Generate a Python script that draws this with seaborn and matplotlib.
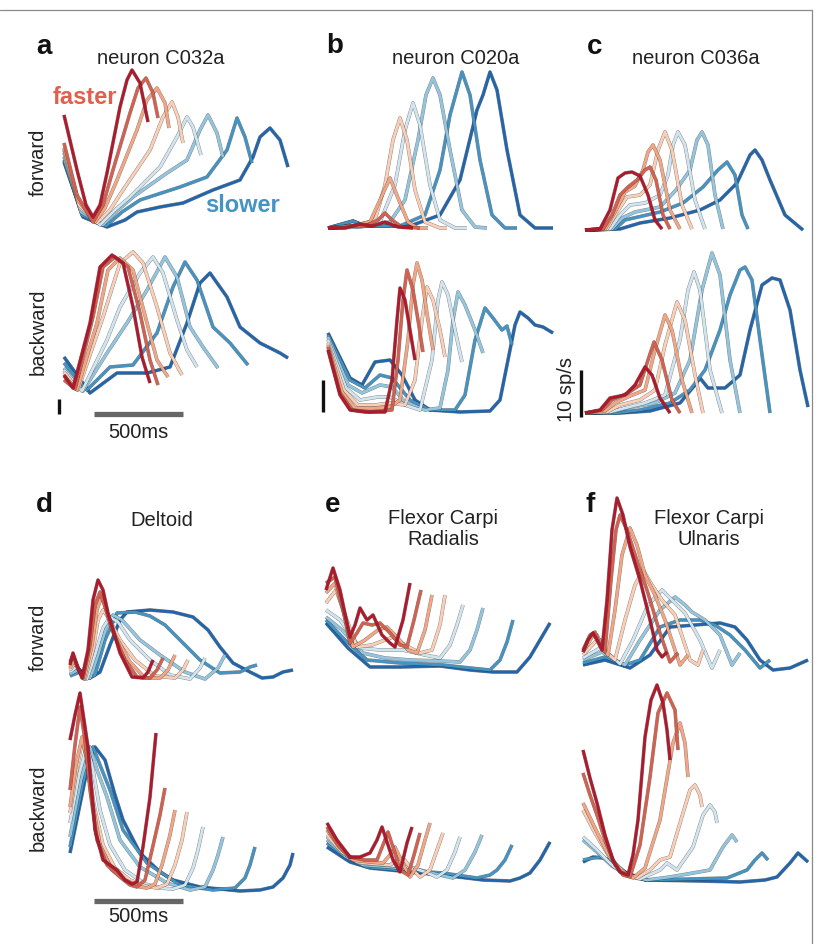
import matplotlib
matplotlib.use("Agg")
import matplotlib.pyplot as plt
from matplotlib.lines import Line2D
import seaborn as sns

sns.set_theme(style="white")
plt.rcParams['font.family'] = ['Liberation Sans', 'DejaVu Sans']

# speed conditions, fastest -> slowest
speeds = ["s1", "s2", "s3", "s4", "s5", "s6", "s7", "s8"]
colors = ['#b2182b', '#d6604d', '#f4a582', '#fbcfb6', '#d1e5f0', '#92c5de', '#4393c3', '#2166ac']

# time in bins (~5.75 ms), rate in arbitrary units (per-panel scale bar)
a_fwd_t = [[0,13,22,29,36,43,56,63,68,76,84],
           [0,13,29,39,49,66,74,82,89,94],
           [0,14,31,41,53,73,83,93,101,105],
           [0,15,33,46,59,86,99,108,114,119],
           [0,16,36,51,66,96,113,123,129,137],
           [0,17,39,54,69,103,123,136,144,153,159],
           [0,18,42,58,76,116,143,163,173,181,188],
           [0,19,43,61,73,96,119,149,176,189,196,206,216,224]]
a_fwd_r = [[113,58,23,11,23,55,121,148,158,145,106],
           [85,33,6,23,58,115,140,150,135,110],
           [80,28,6,20,48,98,128,140,125,100],
           [78,23,5,18,38,78,111,126,111,85],
           [75,20,3,18,31,61,91,111,101,73],
           [71,16,3,18,31,55,68,98,113,95,71],
           [68,13,2,16,28,41,51,78,110,91,65],
           [66,11,1,8,16,21,25,38,48,71,91,100,88,61]]

a_bwd_t = [[0,9,26,36,48,59,69,78,86],
           [0,11,29,39,51,64,76,86,94],
           [0,13,33,44,56,69,83,93,104],
           [0,14,39,56,69,79,93,106,118],
           [0,18,43,56,76,89,99,113,123,133],
           [0,19,43,63,83,101,113,126,139,154],
           [0,23,46,69,93,109,121,133,149,166,184],
           [0,26,53,83,106,123,136,146,163,176,196,216,224]]
a_bwd_r = [[18,5,70,126,138,130,86,36,10],
           [13,4,76,126,136,126,80,33,8],
           [17,3,70,123,135,123,70,33,16],
           [21,3,76,130,141,130,86,40,18],
           [23,2,53,86,120,136,120,73,43,26],
           [25,2,40,70,103,136,116,66,46,25],
           [30,3,26,28,60,106,131,113,66,50,28],
           [36,0,20,20,26,70,110,120,96,66,50,40,35]]

b_fwd_t = [[0,17,32,44,57,70,85],
           [0,22,37,50,57,64,74,92],
           [0,22,42,52,62,70,80,90,100],
           [0,27,47,57,65,72,79,87,97,112,119],
           [0,27,52,67,77,85,92,102,112,127,139],
           [0,32,62,77,90,98,105,112,122,134,147,159],
           [0,25,37,72,97,112,122,134,142,152,164,177,189],
           [0,25,37,82,112,132,149,155,162,169,179,192,207,225]]
b_fwd_r = [[0,0,4,2,6,1,0],
           [0,2,2,8,15,8,1,0],
           [0,2,6,28,50,30,6,0,0],
           [0,2,8,43,88,110,88,38,6,0,0],
           [0,1,6,43,98,125,103,43,8,0,0],
           [0,1,6,28,88,133,150,133,78,18,1,0],
           [0,7,2,2,13,58,113,156,133,68,13,0,0],
           [0,7,2,2,13,48,118,133,156,138,78,13,0,0]]

b_bwd_t = [[0,12,22,37,57,64,69,72,77,82,87],
           [0,12,24,42,64,70,75,79,85,90,95],
           [0,14,27,47,62,72,80,85,89,94,100,105],
           [0,16,30,47,62,77,87,94,99,105,112,117],
           [0,18,32,50,62,77,92,104,110,114,120,127,134],
           [0,20,34,52,64,77,97,112,120,125,130,137,147,155],
           [0,22,37,52,64,82,102,127,137,147,157,165,174,179,184],
           [0,22,34,47,62,74,87,102,132,162,172,180,187,192,200,207,215,225]]
b_bwd_r = [[62,17,2,0,0,32,92,124,112,82,52],
           [65,19,2,0,2,52,112,142,122,92,60],
           [67,20,4,4,5,12,72,127,149,132,92,62],
           [69,22,7,7,9,7,32,92,125,112,82,55],
           [72,24,12,15,15,7,2,52,112,130,117,82,50],
           [75,27,19,27,25,10,2,4,42,92,120,107,82,59],
           [77,32,24,37,34,12,2,2,17,72,104,94,82,86,67],
           [79,34,27,50,52,37,12,2,0,1,12,52,87,100,94,87,85,79]]

c_fwd_t = [[0,15,25,33,40,47,55,63,70,77],
           [0,18,27,35,43,52,60,65,71,78,85],
           [0,20,30,40,50,58,63,68,75,85,95],
           [0,22,32,42,55,65,73,80,87,97,107],
           [0,25,35,45,60,75,83,88,93,100,110,120],
           [0,27,37,50,75,91,105,112,117,123,130,138],
           [0,30,40,53,75,98,118,133,142,150,157,163],
           [0,35,55,85,115,135,152,165,170,177,185,200,218]]
c_fwd_r = [[0,1,20,52,57,58,54,35,10,1],
           [0,1,15,35,43,50,60,63,50,15,1],
           [0,1,18,38,44,60,78,85,70,20,1],
           [0,1,18,33,35,45,80,98,80,25,1],
           [0,1,15,25,27,35,55,85,98,85,30,1],
           [0,1,12,18,23,40,60,90,98,85,35,1],
           [0,1,10,13,18,27,43,60,68,55,15,1],
           [0,1,7,12,20,30,47,75,80,70,50,15,0]]

c_bwd_t = [[0,15,25,40,50,60,67,75,85],
           [0,17,27,43,55,63,69,77,87,95],
           [0,20,30,45,60,70,80,87,97,107],
           [0,22,35,55,70,80,92,100,110,118],
           [0,25,40,60,80,95,103,109,115,125,137],
           [0,27,42,70,90,105,117,127,135,145,155],
           [0,30,55,85,105,120,135,145,155,160,167,175,185],
           [0,35,65,95,110,115,123,140,155,165,177,187,195,205,215,223]]
c_bwd_r = [[0,3,15,18,28,46,38,15,0],
           [0,3,13,20,28,53,71,53,13,0],
           [0,2,10,17,23,63,98,83,33,0],
           [0,1,8,13,23,68,111,93,38,0],
           [0,1,5,10,18,73,123,141,123,43,0],
           [0,1,5,10,20,53,123,160,138,53,0],
           [0,0,3,10,23,43,83,118,143,146,133,73,0],
           [0,0,2,10,28,35,25,25,38,83,128,135,133,103,43,6]]

d_fwd_t = [[0,3,7,12,18,23,28,33,38,50,62,73,78,83],
           [0,3,8,13,20,25,30,36,42,55,67,80,87,93],
           [0,4,9,14,22,27,32,38,45,60,75,90,98,105],
           [0,5,10,15,23,28,33,40,50,65,85,105,113,118],
           [0,6,12,17,25,33,40,48,60,80,100,120,130,135],
           [0,8,14,20,28,36,43,52,70,90,115,135,148,155],
           [0,10,18,25,35,47,65,80,95,110,130,150,170,180,187],
           [0,10,20,30,40,50,57,80,103,123,138,150,163,180,192,203,213,223]]
d_fwd_r = [[15,27,15,2,30,80,100,90,67,27,3,2,8,20],
           [18,25,12,2,35,75,88,70,50,20,3,2,10,22],
           [12,20,10,1,35,70,85,65,45,18,2,2,10,25],
           [10,17,8,1,30,60,70,60,40,20,4,2,10,20],
           [8,13,6,1,25,52,63,58,40,20,5,1,12,22],
           [6,10,4,2,25,52,65,60,40,25,8,1,12,25],
           [4,8,2,5,40,67,68,64,55,40,20,7,8,13,15],
           [5,10,2,8,35,60,68,70,68,63,50,33,17,8,2,3,8,10]]

d_bwd_t = [[0,5,10,14,18,25,33,47,55,62,67,73,80,86],
           [0,5,10,15,20,27,37,50,60,67,75,82,90,95],
           [0,6,12,17,22,30,42,55,70,77,85,92,100,105],
           [0,7,13,18,24,33,45,60,75,87,97,105,112,117],
           [0,9,17,23,30,40,55,75,90,103,115,123,128,133],
           [0,11,20,27,37,50,70,97,120,135,143,148,153],
           [0,13,23,30,40,53,77,110,143,165,175,180,185],
           [0,15,25,35,45,53,70,90,103,130,170,190,203,213,220,223]]
d_bwd_r = [[151,176,198,171,144,61,31,21,11,7,9,44,94,158],
           [101,146,184,151,101,51,26,14,6,4,11,41,76,103],
           [84,126,154,131,91,46,21,11,4,3,7,26,56,81],
           [78,123,153,126,86,46,23,11,5,3,7,26,51,79],
           [68,116,146,121,81,46,21,7,3,2,6,23,41,64],
           [54,111,144,121,94,51,24,8,1,4,21,36,54],
           [44,109,144,126,101,61,28,6,1,3,13,26,44],
           [38,111,144,131,96,71,38,19,11,4,0,1,4,13,26,38]]

e_fwd_t = [[0,7,14,24,29,34,41,47,56,64,69,77,84],
           [0,9,16,24,31,37,46,54,64,74,81,88,95],
           [0,9,17,27,39,52,61,71,82,91,99,106],
           [0,10,19,31,46,59,67,79,94,106,114,119],
           [0,14,34,54,77,99,114,124,131,137],
           [0,16,37,59,84,114,134,144,151,157],
           [0,19,41,74,117,144,164,174,181,187],
           [0,22,44,74,114,144,167,191,204,214,224]]
e_fwd_r = [[83,105,83,36,48,65,53,58,38,30,26,53,90],
           [90,96,68,30,40,50,48,50,40,28,26,53,83],
           [80,90,63,26,33,43,46,36,23,20,43,78],
           [70,83,58,26,28,33,36,28,20,23,48,78],
           [63,53,25,23,23,18,15,28,48,68],
           [56,43,20,15,13,12,11,23,43,65],
           [53,33,13,10,8,5,3,13,31,53],
           [50,25,6,6,7,3,1,1,16,33,50]]

e_bwd_t = [[0,10,23,33,43,50,55,61,66,73,80,85],
           [0,11,23,38,50,56,61,67,73,81,87,93],
           [0,13,26,43,56,63,68,75,83,91,98,103],
           [0,15,30,48,63,70,76,83,93,103,110,116],
           [0,16,33,58,83,98,110,120,128,133],
           [0,18,36,63,93,113,126,138,148,155],
           [0,20,40,73,116,150,163,170,178,185],
           [0,23,43,83,123,156,183,193,203,213,223]]
e_bwd_r = [[59,42,25,25,29,42,55,37,22,10,39,55],
           [55,37,25,22,22,37,50,32,12,7,27,49],
           [52,34,22,20,19,27,35,20,5,17,42,59],
           [47,30,20,18,17,22,24,15,5,12,32,49],
           [45,29,19,17,15,10,5,12,30,45],
           [42,26,17,15,12,7,4,12,30,47],
           [39,24,15,12,9,4,7,12,22,37],
           [35,20,14,10,6,2,1,4,9,22,40]]

f_fwd_t = [[0,5,10,15,19,24,29,34,40,47,57,67,74,79,84],
           [0,7,12,17,22,28,33,37,44,49,57,64,77,87,95],
           [0,9,14,20,25,32,39,47,54,62,72,82,97,105],
           [0,12,17,23,32,42,52,60,69,79,92,107,115,120],
           [0,17,27,37,50,65,79,89,102,117,129,137],
           [0,19,32,42,57,77,92,102,109,122,137,149,157],
           [0,22,42,57,77,97,117,132,147,162,177,187],
           [0,22,47,67,87,112,137,152,164,177,190,207,225]]
f_fwd_r = [[18,30,37,28,20,70,140,172,155,123,90,50,20,13,18],
           [20,35,38,25,18,90,140,155,140,125,100,80,37,8,17],
           [18,33,35,22,15,60,115,142,125,95,75,50,5,15],
           [15,28,30,18,10,50,85,100,85,70,55,10,5,20],
           [12,22,15,6,30,65,80,70,57,30,2,20],
           [10,18,10,5,30,60,73,65,58,50,35,5,17],
           [7,13,5,10,43,50,50,45,35,20,2,10],
           [5,10,2,15,43,45,47,43,30,10,0,2,10]]

f_bwd_t = [[0,7,14,22,30,37,45,50,55,62,68,74,80,84,87],
           [0,7,14,22,32,40,47,57,67,75,84,92,95],
           [0,12,24,37,50,62,77,90,97,102,105],
           [0,12,27,42,54,67,77,87,100,107,112,117,119],
           [0,14,29,42,57,77,84,94,110,120,127,132,134],
           [0,14,29,47,64,87,110,127,140,149,154],
           [0,10,20,32,47,64,107,144,164,172,179,185],
           [0,10,20,27,42,62,117,157,182,194,207,215,225]]
f_bwd_r = [[132,104,79,47,22,10,7,27,62,145,182,197,179,152,122],
           [109,87,67,42,17,7,5,37,105,169,189,172,132],
           [79,54,30,12,4,14,62,139,159,139,105],
           [72,49,24,9,4,12,22,25,69,92,97,87,75],
           [45,32,17,7,3,12,19,12,35,67,77,70,59],
           [42,30,16,6,2,5,9,12,35,47,40],
           [22,24,25,16,6,2,3,4,12,22,29,22],
           [20,25,24,22,10,2,1,0,2,5,19,29,20]]

titles = ["neuron C032a", "neuron C020a", "neuron C036a",
          "Deltoid", "Flexor Carpi\nRadialis", "Flexor Carpi\nUlnaris"]
letters = ["a", "b", "c", "d", "e", "f"]

# ---------------- layout (pixels) ----------------
W, H = 814, 944
fig = plt.figure(figsize=(W / 100, H / 100), dpi=100)
fig.patch.set_facecolor("white")

def fx(x):
    return x / W

def fy(y):
    return 1 - y / H

AXW, AXH = 240, 215
panels = [
    (a_fwd_t, a_fwd_r, 64, 228), (a_bwd_t, a_bwd_r, 64, 393),
    (b_fwd_t, b_fwd_r, 328, 228), (b_bwd_t, b_bwd_r, 328, 412),
    (c_fwd_t, c_fwd_r, 585, 230), (c_bwd_t, c_bwd_r, 585, 413),
    (d_fwd_t, d_fwd_r, 70, 680), (d_bwd_t, d_bwd_r, 70, 891),
    (e_fwd_t, e_fwd_r, 326, 673), (e_bwd_t, e_bwd_r, 327, 882),
    (f_fwd_t, f_fwd_r, 583, 670), (f_bwd_t, f_bwd_r, 583, 882),
]

for T, R, x0, base in panels:
    ax = fig.add_axes([fx(x0), fy(base), AXW / W, AXH / H])
    ax.set_xlim(0, AXW)
    ax.set_ylim(0, AXH)
    ax.set_axis_off()
    ax.patch.set_alpha(0)
    for i in reversed(range(len(speeds))):
        t, r = T[i], R[i]
        ax.plot(t, r, color="#222222", lw=2.6, alpha=0.55, clip_on=False,
                solid_joinstyle="round", solid_capstyle="butt")
        sns.lineplot(x=t, y=r, color=colors[i], lw=2.0, ax=ax, estimator=None,
                     sort=False, clip_on=False, legend=False)
        ax.lines[-1].set_solid_joinstyle("round")
        ax.lines[-1].set_solid_capstyle("butt")

# ---------------- text ----------------
let_pos = [(36, 47), (326, 46), (587, 47), (36, 505), (325, 505), (585, 505)]
for s, (x, y) in zip(letters, let_pos):
    fig.text(fx(x), fy(y), s, fontsize=20, fontweight="bold", ha="left",
             va="center", color="#111111")

title_pos = [(161, 58), (456, 58), (696, 58), (162, 520), (443, 529), (709, 529)]
for s, (x, y) in zip(titles, title_pos):
    fig.text(fx(x), fy(y), s, fontsize=14.5, ha="center", va="center",
             color="#222222", linespacing=1.1)

fig.text(fx(85), fy(98), "faster", fontsize=17, fontweight="bold",
         color="#e0604d", ha="center", va="center")
fig.text(fx(243), fy(206), "slower", fontsize=17, fontweight="bold",
         color="#4393c3", ha="center", va="center")

for s, y in [("forward", 162), ("backward", 332), ("forward", 637), ("backward", 808)]:
    fig.text(fx(38), fy(y), s, fontsize=14.5, rotation=90, ha="center",
             va="center", color="#222222")

# ---------------- scale bars ----------------
def seg(x1, y1, x2, y2, **kw):
    fig.add_artist(Line2D([fx(x1), fx(x2)], [fy(y1), fy(y2)], **kw))

seg(59, 399, 59, 414, color="#111111", lw=2.4, solid_capstyle="butt")
seg(323, 380, 323, 412, color="#111111", lw=2.4, solid_capstyle="butt")
seg(581, 370, 581, 417, color="#111111", lw=2.4, solid_capstyle="butt")
seg(94, 414, 183, 414, color="#666666", lw=3.8, solid_capstyle="butt")
seg(94, 901, 183, 901, color="#666666", lw=3.8, solid_capstyle="butt")
fig.text(fx(138), fy(433), "500ms", fontsize=14.5, ha="center", va="center", color="#222222")
fig.text(fx(138), fy(916), "500ms", fontsize=14.5, ha="center", va="center", color="#222222")
fig.text(fx(566), fy(390), "10 sp/s", fontsize=14.5, rotation=90, ha="center",
         va="center", color="#222222")

# frame lines
seg(0, 10, 812, 10, color="#8a8a8a", lw=0.9)
seg(812, 10, 812, 944, color="#8a8a8a", lw=0.9)

fig.savefig("out.png", dpi=100, facecolor="white")
